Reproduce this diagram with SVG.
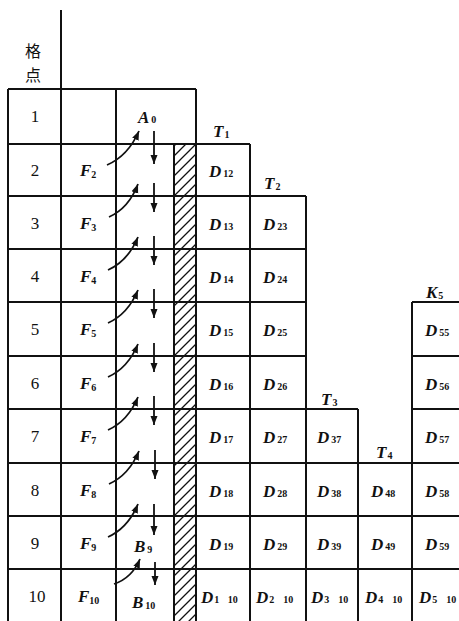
<svg xmlns="http://www.w3.org/2000/svg" width="459" height="621" viewBox="0 0 459 621">
<style>
.g{fill:none;stroke:#111;stroke-width:2}
.n{font-family:"Liberation Serif",serif;font-size:17px;fill:#111;text-anchor:middle}
.b{font-family:"Liberation Serif",serif;font-size:17px;font-weight:bold;font-style:italic;fill:#111}
.s{font-size:10px;font-style:normal}
.cj{font-family:"Noto Sans CJK SC",sans-serif;font-size:16px;fill:#111;text-anchor:middle}
.a{fill:none;stroke:#111;stroke-width:1.8}
</style>
<defs>
<pattern id="hatch" patternUnits="userSpaceOnUse" width="10" height="10">
<path d="M0,10 L10,0 M-5,5 L5,-5 M5,15 L15,5" stroke="#111" stroke-width="1.3"/>
</pattern>
<marker id="ah" markerUnits="userSpaceOnUse" markerWidth="11" markerHeight="9" refX="9" refY="4.5" orient="auto">
<path d="M0,1 L9,4.5 L0,8 z" fill="#111"/>
</marker>
</defs>
<rect x="174" y="144" width="22" height="477" fill="url(#hatch)"/>
<g id="grid">
<path class="g" d="M8,89H196 M8,144H250 M8,196H306 M8,249H306 M8,302H306 M412,302H459 M8,356H306 M412,356H459 M8,409H358 M412,409H459 M8,463H459 M8,516H459 M8,569H459"/>
<path class="g" d="M8,89V621 M61,10V621 M116,89V621 M174,144V621 M196,89V621 M250,144V621 M306,196V621 M358,409V621 M412,302V621"/>
</g>
<g id="header"><text class="cj" x="33" y="57">格</text><text class="cj" x="33" y="81">点</text></g>
<g id="rownums">
<text class="n" x="35" y="122">1</text>
<text class="n" x="35" y="176">2</text>
<text class="n" x="35" y="229">3</text>
<text class="n" x="35" y="282">4</text>
<text class="n" x="35" y="335">5</text>
<text class="n" x="35" y="389">6</text>
<text class="n" x="35" y="442">7</text>
<text class="n" x="35" y="496">8</text>
<text class="n" x="35" y="549">9</text>
<text class="n" x="37" y="602">10</text>
</g>
<g id="F">
<text class="b" x="80" y="176">F<tspan class="s" dy="2">2</tspan></text>
<text class="b" x="80" y="229">F<tspan class="s" dy="2">3</tspan></text>
<text class="b" x="80" y="282">F<tspan class="s" dy="2">4</tspan></text>
<text class="b" x="80" y="335">F<tspan class="s" dy="2">5</tspan></text>
<text class="b" x="80" y="389">F<tspan class="s" dy="2">6</tspan></text>
<text class="b" x="80" y="442">F<tspan class="s" dy="2">7</tspan></text>
<text class="b" x="80" y="496">F<tspan class="s" dy="2">8</tspan></text>
<text class="b" x="80" y="549">F<tspan class="s" dy="2">9</tspan></text>
<text class="b" x="78" y="602">F<tspan class="s" dy="2">10</tspan></text>
</g>
<g id="A0"><text class="b" x="138" y="123">A<tspan class="s" dx="2">0</tspan></text></g>
<g id="B9"><text class="b" x="134" y="552">B<tspan class="s" dx="2" dy="1">9</tspan></text></g>
<g id="B10"><text class="b" x="132" y="608">B<tspan class="s" dx="2" dy="1">10</tspan></text></g>
<g id="connectors">
<path class="a" marker-end="url(#ah)" d="M107,165 Q128,156 139,131"/>
<path class="a" marker-end="url(#ah)" d="M109,217 Q129,208 138,184"/>
<path class="a" marker-end="url(#ah)" d="M108,270 Q128,261 138,237"/>
<path class="a" marker-end="url(#ah)" d="M108,323 Q128,314 138,290"/>
<path class="a" marker-end="url(#ah)" d="M108,377 Q128,368 138,344"/>
<path class="a" marker-end="url(#ah)" d="M108,430 Q128,421 138,397"/>
<path class="a" marker-end="url(#ah)" d="M109,484 Q129,475 139,451"/>
<path class="a" marker-end="url(#ah)" d="M108,537 Q128,528 138,504"/>
<path class="a" marker-end="url(#ah)" d="M114,584 Q132,578 140,559"/>
<path class="a" marker-end="url(#ah)" d="M154,131V164"/>
<path class="a" marker-end="url(#ah)" d="M154,183V212"/>
<path class="a" marker-end="url(#ah)" d="M154,236V265"/>
<path class="a" marker-end="url(#ah)" d="M154,289V318"/>
<path class="a" marker-end="url(#ah)" d="M154,343V372"/>
<path class="a" marker-end="url(#ah)" d="M154,396V425"/>
<path class="a" marker-end="url(#ah)" d="M155,450V479"/>
<path class="a" marker-end="url(#ah)" d="M154,504V535"/>
<path class="a" marker-end="url(#ah)" d="M155,562V585"/>
</g>
<g id="T">
<text class="b" x="213" y="137">T<tspan class="s" dx="1" dy="1">1</tspan></text>
<text class="b" x="264" y="189">T<tspan class="s" dx="1" dy="1">2</tspan></text>
<text class="b" x="321" y="405">T<tspan class="s" dx="1" dy="1">3</tspan></text>
<text class="b" x="376" y="458">T<tspan class="s" dx="1" dy="1">4</tspan></text>
<text class="b" x="426" y="298">K<tspan class="s" dx="1" dy="1">5</tspan></text>
</g>
<g id="D1">
<text class="b" x="209" y="177">D<tspan class="s" dx="2">12</tspan></text>
<text class="b" x="209" y="230">D<tspan class="s" dx="2">13</tspan></text>
<text class="b" x="209" y="283">D<tspan class="s" dx="2">14</tspan></text>
<text class="b" x="209" y="336">D<tspan class="s" dx="2">15</tspan></text>
<text class="b" x="209" y="390">D<tspan class="s" dx="2">16</tspan></text>
<text class="b" x="209" y="443">D<tspan class="s" dx="2">17</tspan></text>
<text class="b" x="209" y="497">D<tspan class="s" dx="2">18</tspan></text>
<text class="b" x="209" y="550">D<tspan class="s" dx="2">19</tspan></text>
<text class="b" x="201" y="603">D<tspan class="s" dx="1">1</tspan><tspan class="s" dx="9">10</tspan></text>
</g>
<g id="D2">
<text class="b" x="263" y="230">D<tspan class="s" dx="2">23</tspan></text>
<text class="b" x="263" y="283">D<tspan class="s" dx="2">24</tspan></text>
<text class="b" x="263" y="336">D<tspan class="s" dx="2">25</tspan></text>
<text class="b" x="263" y="390">D<tspan class="s" dx="2">26</tspan></text>
<text class="b" x="263" y="443">D<tspan class="s" dx="2">27</tspan></text>
<text class="b" x="263" y="497">D<tspan class="s" dx="2">28</tspan></text>
<text class="b" x="263" y="550">D<tspan class="s" dx="2">29</tspan></text>
<text class="b" x="256" y="603">D<tspan class="s" dx="1">2</tspan><tspan class="s" dx="9">10</tspan></text>
</g>
<g id="D3">
<text class="b" x="317" y="443">D<tspan class="s" dx="2">37</tspan></text>
<text class="b" x="317" y="497">D<tspan class="s" dx="2">38</tspan></text>
<text class="b" x="317" y="550">D<tspan class="s" dx="2">39</tspan></text>
<text class="b" x="311" y="603">D<tspan class="s" dx="1">3</tspan><tspan class="s" dx="9">10</tspan></text>
</g>
<g id="D4">
<text class="b" x="371" y="497">D<tspan class="s" dx="2">48</tspan></text>
<text class="b" x="371" y="550">D<tspan class="s" dx="2">49</tspan></text>
<text class="b" x="365" y="603">D<tspan class="s" dx="1">4</tspan><tspan class="s" dx="9">10</tspan></text>
</g>
<g id="D5">
<text class="b" x="425" y="336">D<tspan class="s" dx="2">55</tspan></text>
<text class="b" x="425" y="390">D<tspan class="s" dx="2">56</tspan></text>
<text class="b" x="425" y="443">D<tspan class="s" dx="2">57</tspan></text>
<text class="b" x="425" y="497">D<tspan class="s" dx="2">58</tspan></text>
<text class="b" x="425" y="550">D<tspan class="s" dx="2">59</tspan></text>
<text class="b" x="419" y="603">D<tspan class="s" dx="1">5</tspan><tspan class="s" dx="9">10</tspan></text>
</g>
</svg>
